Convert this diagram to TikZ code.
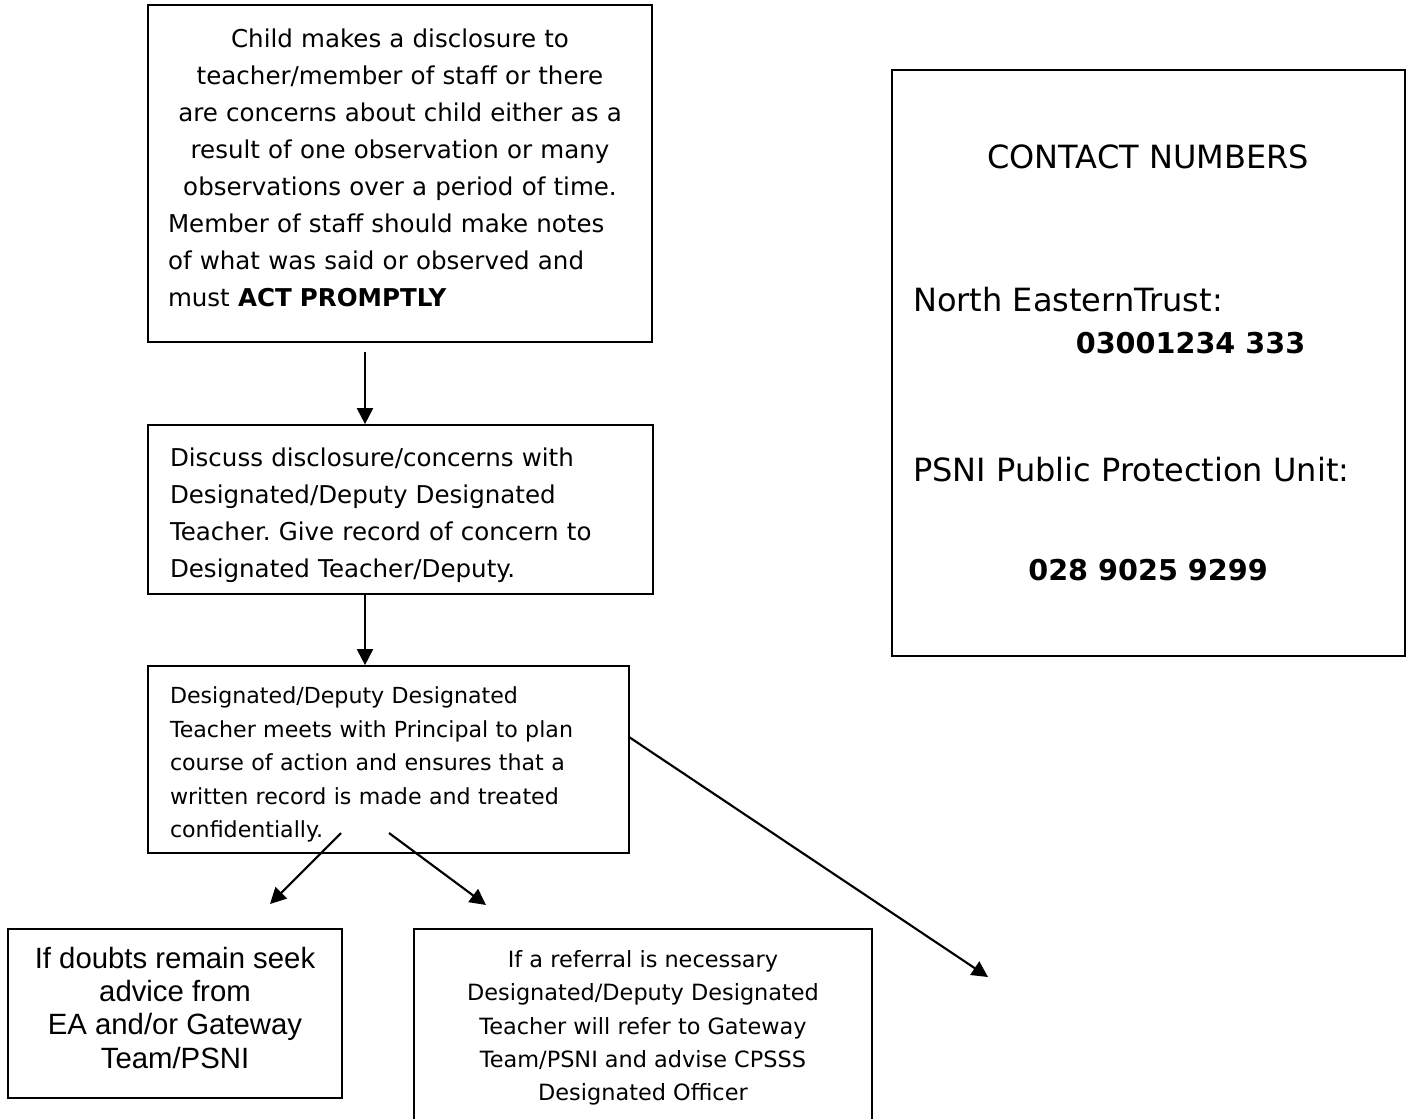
\documentclass[tikz,border=0pt]{standalone}
\usepackage{fontspec}
\setmainfont{DejaVu Sans}
\newfontfamily\arialf{Liberation Sans}
\usetikzlibrary{arrows.meta,calc}
\frenchspacing
\begin{document}
\begin{tikzpicture}[x=0.75pt,y=-0.75pt,
  box/.style={draw=black,line width=1.3pt,inner sep=0pt,rectangle},
  arr/.style={line width=1.6pt,-{Triangle[length=12pt,width=12pt]}},
  bigtxt/.style={font={\fontsize{18.4}{27.75}\selectfont},inner sep=0pt},
  midtxt/.style={font={\fontsize{16.6}{25.2}\selectfont},inner sep=0pt},
  contact/.style={font={\fontsize{24}{28}\selectfont},inner sep=0pt},
  numtxt/.style={font={\fontsize{21.5}{26}\selectfont\bfseries},inner sep=0pt}]
\clip (0,0) rectangle (1410,1118);
\fill[white] (0,0) rectangle (1410,1118);

% box 1
\node[box,minimum width=378pt,minimum height=252.75pt] (b1) at (400,173.5) {};
\node[bigtxt,align=left,text width=348pt] (t1) at (400,167.5)
{\parindent=0pt{\centering Child makes a disclosure to\\teacher/member of staff or there\\are concerns about child either as a\\result of one observation or many\\observations over a period of time.\par}Member of staff should make notes\\of what was said or observed and\\must \textbf{ACT PROMPTLY}};

% box 2
\node[box,minimum width=378.75pt,minimum height=126.75pt] (b2) at (400.5,509.5) {};
\node[bigtxt,align=left,text width=345.75pt] (t2) at (400.5,515.5)
{Discuss disclosure/concerns with\\Designated/Deputy Designated\\Teacher. Give record of concern to\\Designated Teacher/Deputy.};

% box 3
\node[box,minimum width=360.75pt,minimum height=140.25pt] (b3) at (388.5,759.5) {};
\node[midtxt,align=left,text width=327.75pt] (t3) at (388.5,764.5)
{Designated/Deputy Designated\\Teacher meets with Principal to plan\\course of action and ensures that a\\written record is made and treated\\confidentially.};

% box 4
\node[box,minimum width=250.5pt,minimum height=126.75pt] (b4) at (175,1013.5) {};
\node[align=center,inner sep=0pt,font={\arialf\fontsize{22}{25}\selectfont}] (t4) at (175,1007.5)
{If doubts remain seek\\advice from\\EA and/or Gateway\\Team/PSNI};

% box 5
\node[box,minimum width=343.5pt,minimum height=146.25pt] (b5) at (643,1026.5) {};
\node[align=center,inner sep=0pt,font={\fontsize{16.8}{25}\selectfont}] (t5) at (643,1028)
{If a referral is necessary\\Designated/Deputy Designated\\Teacher will refer to Gateway\\Team/PSNI and advise CPSSS\\Designated Officer};

% box 6
\node[box,minimum width=384.75pt,minimum height=439.5pt] (b6) at (1148.5,363) {};
\node[contact] (cn) at (1148,157) {CONTACT NUMBERS};
\node[contact,anchor=west] (net) at (913,300) {North EasternTrust:};
\node[numtxt] (netnum) at (1190.5,343) {03001234 333};
\node[contact,anchor=west] (psni) at (913,470) {PSNI Public Protection Unit:};
\node[numtxt] (psninum) at (1148,570) {028 9025 9299};

% connectors
\coordinate (a1s) at (365,352);
\draw[arr] (a1s) -- (a1s |- b2.north);
\draw[arr] (b2.south -| a1s) -- (b3.north -| a1s);
\coordinate (a3s) at (341,833);
\coordinate (a3e) at (270,904);
\draw[arr] (a3s) -- (a3e);
\coordinate (a4s) at (389,833);
\coordinate (a4e) at (486,905);
\draw[arr] (a4s) -- (a4e);
\coordinate (a5s) at (629,737);
\coordinate (a5e) at (988,977);
\draw[arr] (a5s) -- (a5e);
\end{tikzpicture}
\end{document}
